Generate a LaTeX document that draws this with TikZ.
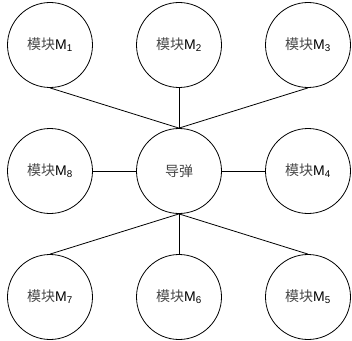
\documentclass[tikz,border=0pt]{standalone}
\usepackage{fontspec}
\setmainfont{Liberation Sans}
\newfontfamily\cjk{Noto Sans CJK SC}
\usetikzlibrary{positioning}

% module label: 模块M with its index
\newcommand{\modlabel}[1]{{\cjk\color{black!72}模块}M\textsubscript{#1}}

\tikzset{
	part/.style={draw, circle, line width=0.8pt, minimum size=85pt, inner sep=0pt,
		font=\fontsize{14}{16}\selectfont},
	link/.style={line width=0.8pt}
}

\begin{document}
\begin{tikzpicture}[node distance=126pt and 129pt, on grid]
			\useasboundingbox (-179pt,171pt) rectangle (173pt,-169pt);
			\node[part] (msl) {{\cjk\color{black!72}导弹}};
			% top row
			\node[part, above left=of msl] (m1) {\modlabel{1}};
			\node[part, above=of msl] (m2) {\modlabel{2}};
			\node[part, above right=of msl] (m3) {\modlabel{3}};
			% middle row
			\node[part, right=of msl] (m4) {\modlabel{4}};
			\node[part, left=of msl] (m8) {\modlabel{8}};
			% bottom row
			\node[part, below right=of msl] (m5) {\modlabel{5}};
			\node[part, below=of msl] (m6) {\modlabel{6}};
			\node[part, below left=of msl] (m7) {\modlabel{7}};
			\draw[link] (m1.south) -- (msl.north);
			\draw[link] (m2.south) -- (msl.north);
			\draw[link] (m3.south) -- (msl.north);
			\draw[link] (m8.east) -- (msl.west);
			\draw[link] (msl.east) -- (m4.west);
			\draw[link] (msl.south) -- (m7.north);
			\draw[link] (msl.south) -- (m6.north);
			\draw[link] (msl.south) -- (m5.north);
		\end{tikzpicture}
\end{document}
